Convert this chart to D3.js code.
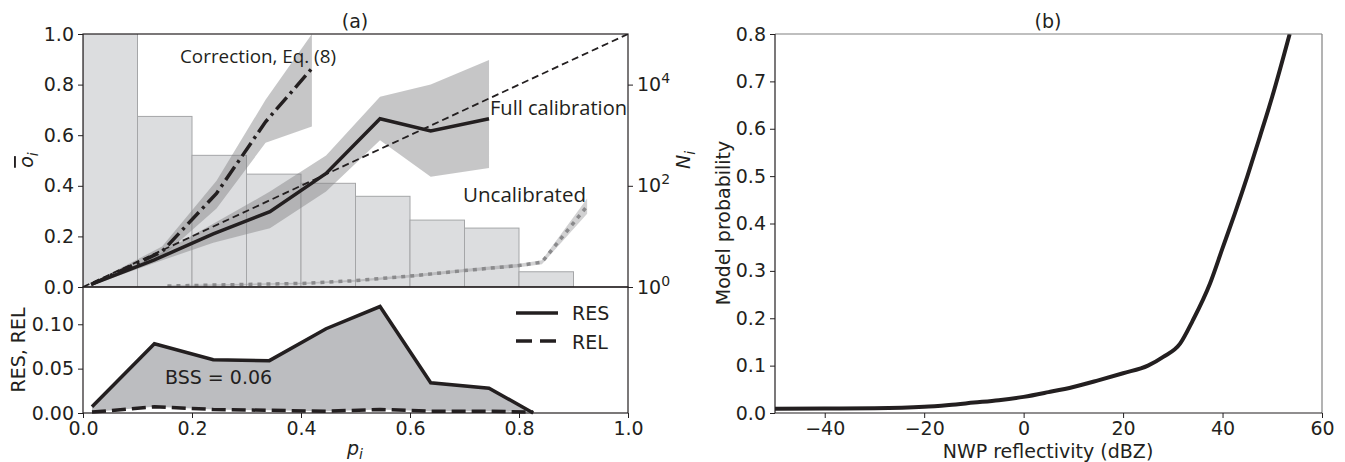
<!DOCTYPE html>
<html>
<head>
<meta charset="utf-8">
<script src="https://cdn.jsdelivr.net/npm/d3@7"></script>
<style>
  body { margin: 0; background: #fff; }
  svg text { font-family: "DejaVu Sans", sans-serif; fill: #231f20; }
  .annot { font-family: "Open Sans", "Noto Sans", sans-serif; }
</style>
</head>
<body>
<svg id="chart" width="1345" height="462"></svg>
<script>
// ---- panel (a) data ----
const binEdges = [0, 0.1, 0.2, 0.3, 0.4, 0.5, 0.6, 0.7, 0.8, 0.9];
const binCounts = [150000, 2350, 400, 170, 112, 62, 21, 14.6, 2];

const pCal = [0.015, 0.131, 0.239, 0.343, 0.446, 0.545, 0.638, 0.745];
const oCal = [0.01, 0.107, 0.21, 0.298, 0.449, 0.665, 0.617, 0.665];
const oCalLo = [0.006, 0.095, 0.175, 0.232, 0.377, 0.58, 0.436, 0.47];
const oCalHi = [0.014, 0.12, 0.25, 0.377, 0.52, 0.752, 0.80, 0.897];

const pCor = [0.015, 0.145, 0.245, 0.335, 0.42];
const oCor = [0.01, 0.14, 0.37, 0.653, 0.864];
const oCorLo = [0.006, 0.12, 0.31, 0.57, 0.634];
const oCorHi = [0.014, 0.16, 0.42, 0.74, 1.0];

const pUnc = [0.155, 0.3, 0.4, 0.5, 0.6, 0.7, 0.8, 0.842, 0.925];
const oUnc = [0.004, 0.01, 0.014, 0.025, 0.043, 0.065, 0.085, 0.098, 0.32];
const oUncLo = [0.001, 0.007, 0.011, 0.021, 0.038, 0.059, 0.078, 0.09, 0.29];
const oUncHi = [0.007, 0.013, 0.017, 0.029, 0.048, 0.071, 0.092, 0.106, 0.35];

const pSkill = [0.0165, 0.131, 0.239, 0.342, 0.446, 0.545, 0.638, 0.745, 0.826];
const resVals = [0.007, 0.078, 0.060, 0.059, 0.095, 0.120, 0.034, 0.028, 0.000];
const relVals = [0.001, 0.007, 0.004, 0.003, 0.002, 0.004, 0.002, 0.002, 0.001];

const oTicks = [0, 0.2, 0.4, 0.6, 0.8, 1.0];
const nTicks = [1, 100, 10000];
const skillTicks = [0, 0.05, 0.10];
const pTicks = [0, 0.2, 0.4, 0.6, 0.8, 1.0];

// ---- panel (b) data ----
const dbz = [-50, -40, -30, -20, -15, -10, -5, 0, 5, 10, 15, 20, 25, 28, 31.5, 34, 37.5, 40, 42.5, 45, 47.5, 50, 53.5];
const prob = [0.009, 0.0095, 0.010, 0.013, 0.017, 0.022, 0.027, 0.034, 0.044, 0.055, 0.069, 0.084, 0.100, 0.118, 0.147, 0.195, 0.274, 0.348, 0.422, 0.50, 0.583, 0.668, 0.80];
const dbzTicks = [-40, -20, 0, 20, 40, 60];
const probTicks = [0, 0.1, 0.2, 0.3, 0.4, 0.5, 0.6, 0.7, 0.8];

const ink = '#231f20';
const fs = 19;
const svg = d3.select('#chart');
svg.append('rect').attr('width', 1345).attr('height', 462).attr('fill', '#fff');

// scales
const x = d3.scaleLinear().domain([0, 1]).range([83, 628]);
const yTop = d3.scaleLinear().domain([0, 1]).range([287, 34]);
const yN = d3.scaleLog().domain([1, 1e5]).range([287, 34]);
const yBot = d3.scaleLinear().domain([0, 0.142]).range([413, 287]);

const xb = d3.scaleLinear().domain([-50, 60]).range([775, 1322]);
const yb = d3.scaleLinear().domain([0, 0.8]).range([413, 34]);

svg.append('clipPath').attr('id', 'clipTop')
  .append('rect').attr('x', 83).attr('y', 34).attr('width', 545).attr('height', 253);
svg.append('clipPath').attr('id', 'clipB')
  .append('rect').attr('x', 775).attr('y', 34).attr('width', 547).attr('height', 379);

function styleAxis(g) {
  g.selectAll('text').attr('font-size', fs).attr('fill', ink)
    .style('font-family', '"DejaVu Sans", sans-serif');
  g.selectAll('line').attr('stroke', ink);
  g.select('.domain').remove();
}

// ===== panel (a) top =====
const topG = svg.append('g').attr('clip-path', 'url(#clipTop)');

topG.selectAll('rect.bar')
  .data(binCounts)
  .join('rect')
  .attr('class', 'bar')
  .attr('x', (d, i) => x(binEdges[i]))
  .attr('width', (d, i) => x(binEdges[i] + 0.1) - x(binEdges[i]))
  .attr('y', d => yN(d))
  .attr('height', d => 287 - yN(d))
  .attr('fill', '#dcdddf')
  .attr('stroke', '#a5a6a8')
  .attr('stroke-width', 1);

const band = (ps, lo, hi) => d3.area()
  .x((d, i) => x(ps[i]))
  .y0((d, i) => yTop(lo[i]))
  .y1((d, i) => yTop(hi[i]))(ps);
const line = (ps, os) => d3.line()
  .x((d, i) => x(ps[i]))
  .y((d, i) => yTop(os[i]))(ps);

topG.append('path').attr('d', band(pUnc, oUncLo, oUncHi))
  .attr('fill', 'rgba(140,140,142,0.4)');
topG.append('path').attr('d', band(pCal, oCalLo, oCalHi))
  .attr('fill', 'rgba(128,128,130,0.45)');
topG.append('path').attr('d', band(pCor, oCorLo, oCorHi))
  .attr('fill', 'rgba(128,128,130,0.45)');

// perfect reliability diagonal
topG.append('path').attr('d', line([0, 1], [0, 1]))
  .attr('stroke', ink).attr('stroke-width', 1.8)
  .attr('stroke-dasharray', '7,4').attr('fill', 'none');

topG.append('path').attr('d', line(pUnc, oUnc))
  .attr('stroke', '#8a8a8c').attr('stroke-width', 3.5)
  .attr('stroke-dasharray', '4,5').attr('fill', 'none');

topG.append('path').attr('d', line(pCal, oCal))
  .attr('stroke', ink).attr('stroke-width', 3.5).attr('fill', 'none');

topG.append('path').attr('d', line(pCor, oCor))
  .attr('stroke', ink).attr('stroke-width', 3.5)
  .attr('stroke-dasharray', '16,5,3,5').attr('fill', 'none');

svg.append('text').attr('class', 'annot').attr('x', 180).attr('y', 63)
  .attr('font-size', 18).attr('textLength', 156).attr('lengthAdjust', 'spacingAndGlyphs')
  .text('Correction, Eq. (8)');
svg.append('text').attr('class', 'annot').attr('x', 490).attr('y', 115)
  .attr('font-size', 20.5).attr('textLength', 137).attr('lengthAdjust', 'spacingAndGlyphs')
  .text('Full calibration');
svg.append('text').attr('class', 'annot').attr('x', 463).attr('y', 202)
  .attr('font-size', 20.5).attr('textLength', 123).attr('lengthAdjust', 'spacingAndGlyphs')
  .text('Uncalibrated');

svg.append('rect').attr('x', 83).attr('y', 34).attr('width', 545).attr('height', 253)
  .attr('fill', 'none').attr('stroke', ink).attr('stroke-width', 1.2);

svg.append('g').attr('transform', 'translate(83,0)')
  .call(d3.axisLeft(yTop).tickValues(oTicks).tickFormat(d3.format('.1f')).tickSize(5).tickPadding(4))
  .call(styleAxis);

const rightAx = svg.append('g').attr('transform', 'translate(628,0)')
  .call(d3.axisRight(yN).tickValues(nTicks).tickSize(5).tickPadding(4))
  .call(styleAxis);
rightAx.selectAll('text').each(function (d) {
  const t = d3.select(this).text(null);
  t.append('tspan').text('10');
  t.append('tspan').attr('dy', -8).attr('font-size', 14).text(Math.round(Math.log10(d)));
});

svg.append('text').attr('x', 355).attr('y', 28).attr('text-anchor', 'middle')
  .attr('font-size', fs).text('(a)');

// y labels
const oLab = svg.append('text').attr('transform', 'translate(33,160) rotate(-90)')
  .attr('text-anchor', 'middle').attr('font-size', fs);
oLab.append('tspan').style('text-decoration', 'overline').attr('font-style', 'italic').text('o');
oLab.append('tspan').attr('dy', 5).attr('font-size', 14).attr('font-style', 'italic').text('i');

const nLab = svg.append('text').attr('transform', 'translate(690,160) rotate(-90)')
  .attr('text-anchor', 'middle').attr('font-size', fs);
nLab.append('tspan').attr('font-style', 'italic').text('N');
nLab.append('tspan').attr('dy', 5).attr('font-size', 14).attr('font-style', 'italic').text('i');

// ===== panel (a) bottom =====
const skillArea = d3.area()
  .x((d, i) => x(pSkill[i]))
  .y0((d, i) => yBot(relVals[i]))
  .y1((d, i) => yBot(resVals[i]));
svg.append('path').attr('d', skillArea(pSkill)).attr('fill', '#bcbdc0');

const skillLine = vals => d3.line()
  .x((d, i) => x(pSkill[i]))
  .y((d, i) => yBot(vals[i]))(pSkill);
svg.append('path').attr('d', skillLine(resVals))
  .attr('stroke', ink).attr('stroke-width', 3.5).attr('fill', 'none');
svg.append('path').attr('d', skillLine(relVals))
  .attr('stroke', ink).attr('stroke-width', 3.5)
  .attr('stroke-dasharray', '14,6').attr('fill', 'none');

svg.append('text').attr('x', 165).attr('y', 384).attr('font-size', fs).text('BSS = 0.06');

// legend
svg.append('line').attr('x1', 516).attr('x2', 558).attr('y1', 313).attr('y2', 313)
  .attr('stroke', ink).attr('stroke-width', 3.5);
svg.append('line').attr('x1', 516).attr('x2', 558).attr('y1', 341).attr('y2', 341)
  .attr('stroke', ink).attr('stroke-width', 3.5).attr('stroke-dasharray', '16,8');
svg.append('text').attr('x', 572).attr('y', 320).attr('font-size', fs).text('RES');
svg.append('text').attr('x', 572).attr('y', 349).attr('font-size', fs).text('REL');

svg.append('rect').attr('x', 83).attr('y', 287).attr('width', 545).attr('height', 126)
  .attr('fill', 'none').attr('stroke', ink).attr('stroke-width', 1.2);

svg.append('g').attr('transform', 'translate(83,0)')
  .call(d3.axisLeft(yBot).tickValues(skillTicks).tickFormat(d3.format('.2f')).tickSize(5).tickPadding(4))
  .call(styleAxis);
svg.append('g').attr('transform', 'translate(0,413)')
  .call(d3.axisBottom(x).tickValues(pTicks).tickFormat(d3.format('.1f')).tickSize(5).tickPadding(4))
  .call(styleAxis);

svg.append('text').attr('transform', 'translate(25,350) rotate(-90)')
  .attr('text-anchor', 'middle').attr('font-size', fs).text('RES, REL');

const pLab = svg.append('text').attr('x', 355).attr('y', 455)
  .attr('text-anchor', 'middle').attr('font-size', fs);
pLab.append('tspan').attr('font-style', 'italic').text('p');
pLab.append('tspan').attr('dy', 4).attr('font-size', 14).attr('font-style', 'italic').text('i');

// ===== panel (b) =====
svg.append('path')
  .attr('clip-path', 'url(#clipB)')
  .attr('d', d3.line().x((d, i) => xb(dbz[i])).y((d, i) => yb(prob[i])).curve(d3.curveMonotoneX)(dbz))
  .attr('stroke', ink).attr('stroke-width', 4).attr('fill', 'none');

svg.append('line').attr('x1', 775).attr('x2', 1322).attr('y1', 34).attr('y2', 34)
  .attr('stroke', '#808080').attr('stroke-width', 1.2);
svg.append('line').attr('x1', 1322).attr('x2', 1322).attr('y1', 34).attr('y2', 413)
  .attr('stroke', '#808080').attr('stroke-width', 1.2);
svg.append('line').attr('x1', 775).attr('x2', 775).attr('y1', 34).attr('y2', 413)
  .attr('stroke', ink).attr('stroke-width', 1.2);
svg.append('line').attr('x1', 775).attr('x2', 1322).attr('y1', 413).attr('y2', 413)
  .attr('stroke', ink).attr('stroke-width', 1.2);

svg.append('g').attr('transform', 'translate(775,0)')
  .call(d3.axisLeft(yb).tickValues(probTicks).tickFormat(d3.format('.1f')).tickSize(5).tickPadding(4))
  .call(styleAxis);
svg.append('g').attr('transform', 'translate(0,413)')
  .call(d3.axisBottom(xb).tickValues(dbzTicks).tickFormat(d => d < 0 ? '\u2212' + Math.abs(d) : d).tickSize(5).tickPadding(4))
  .call(styleAxis);

svg.append('text').attr('x', 1048).attr('y', 28).attr('text-anchor', 'middle')
  .attr('font-size', fs).text('(b)');
svg.append('text').attr('x', 1048).attr('y', 458).attr('text-anchor', 'middle')
  .attr('font-size', fs).text('NWP reflectivity (dBZ)');
svg.append('text').attr('transform', 'translate(730,223) rotate(-90)')
  .attr('text-anchor', 'middle').attr('font-size', fs).text('Model probability');
</script>
</body>
</html>
